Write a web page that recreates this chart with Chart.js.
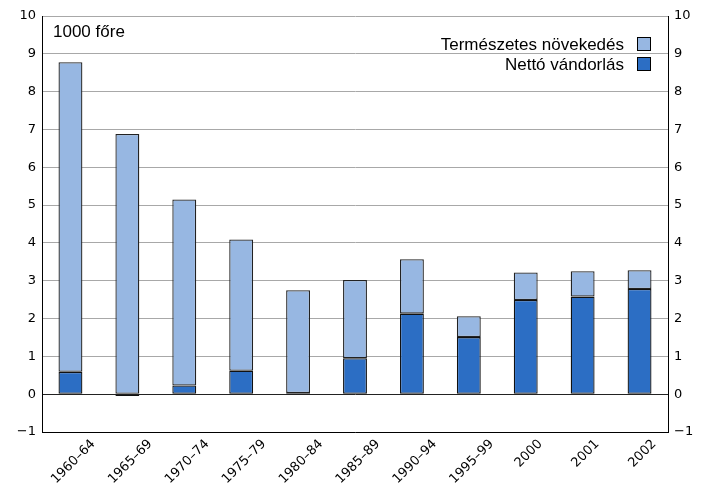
<!DOCTYPE html>
<html>
<head>
<meta charset="utf-8">
<script src="https://cdn.jsdelivr.net/npm/chart.js@4"></script>
<style>
  body { margin: 0; background: #fff; }
  #wrap { width: 701px; height: 488px; }
</style>
</head>
<body>
<div id="wrap"><canvas id="migChart" width="701" height="488"></canvas></div>
<script>
const periods = ['1960–64', '1965–69', '1970–74', '1975–79', '1980–84', '1985–89', '1990–94', '1995–99', '2000', '2001', '2002'];
const netMigration = [0.59, -0.05, 0.23, 0.62, 0.03, 0.95, 2.13, 1.51, 2.49, 2.58, 2.78];
const naturalIncrease = [8.19, 6.88, 4.92, 3.47, 2.72, 2.07, 1.44, 0.55, 0.73, 0.67, 0.50];
const yTicks = [10, 9, 8, 7, 6, 5, 4, 3, 2, 1, 0, -1];

const lightBlue = '#97b7e2';
const darkBlue = '#2c6ec4';
const tickFont = { family: '"DejaVu Sans", Verdana, sans-serif', size: 13 };

// legend + unit label drawn inside the plot area
const insideLabels = {
  id: 'insideLabels',
  afterDraw(chart) {
    const ctx = chart.ctx;
    const area = chart.chartArea;
    ctx.save();
    ctx.font = '17px "Liberation Sans", Arial, sans-serif';
    ctx.fillStyle = '#000';
    ctx.textBaseline = 'alphabetic';
    ctx.textAlign = 'left';
    ctx.fillText('1000 főre', area.left + 11, area.top + 21);

    const items = [
      { text: 'Természetes növekedés', color: lightBlue },
      { text: 'Nettó vándorlás', color: darkBlue }
    ];
    ctx.textAlign = 'right';
    items.forEach((it, i) => {
      const boxTop = Math.round(area.top + 21 + i * 20);
      const boxRight = Math.round(area.right - 17);
      ctx.fillStyle = it.color;
      ctx.fillRect(boxRight - 14, boxTop, 14, 14);
      ctx.strokeStyle = '#000';
      ctx.lineWidth = 1;
      ctx.strokeRect(boxRight - 14 + 0.5, boxTop + 0.5, 13, 13);
      ctx.fillStyle = '#000';
      ctx.fillText(it.text, boxRight - 27, boxTop + 13);
    });
    ctx.restore();
  }
};

// rotated category labels, centred under each bar
const rotatedLabels = {
  id: 'rotatedLabels',
  afterDraw(chart) {
    const ctx = chart.ctx;
    const xs = chart.scales.x;
    ctx.save();
    ctx.font = tickFont.size + 'px ' + tickFont.family;
    ctx.fillStyle = '#000';
    ctx.textAlign = 'right';
    ctx.textBaseline = 'middle';
    periods.forEach((p, i) => {
      const w = ctx.measureText(p).width;
      const x = xs.getPixelForValue(i);
      ctx.save();
      ctx.translate(x + w * 0.3536 + 3, xs.top + 10);
      ctx.rotate(-Math.PI / 4);
      ctx.fillText(p, 0, 0);
      ctx.restore();
    });
    ctx.restore();
  }
};

const ctx = document.getElementById('migChart').getContext('2d');
new Chart(ctx, {
  type: 'bar',
  data: {
    labels: periods,
    datasets: [
      {
        label: 'Nettó vándorlás',
        data: netMigration,
        backgroundColor: darkBlue,
        borderColor: '#111',
        borderWidth: 1.3,
        borderSkipped: false
      },
      {
        label: 'Természetes növekedés',
        data: naturalIncrease,
        backgroundColor: lightBlue,
        borderColor: '#222',
        borderWidth: 1.3,
        borderSkipped: false
      }
    ]
  },
  options: {
    responsive: false,
    animation: false,
    layout: { padding: { top: 16, left: 0, right: 0, bottom: 0 } },
    datasets: { bar: { barPercentage: 0.42, categoryPercentage: 1 } },
    plugins: {
      legend: { display: false },
      tooltip: { enabled: false }
    },
    scales: {
      x: {
        stacked: true,
        grid: { display: false },
        border: { display: true, color: '#000', width: 1 },
        ticks: { display: false },
        afterFit(scale) { scale.height = 56; }
      },
      y: {
        stacked: true,
        position: 'left',
        min: -1,
        max: 10,
        afterBuildTicks(scale) { scale.ticks = yTicks.map(v => ({ value: v })); },
        grid: {
          drawTicks: false,
          color: c => (c.tick.value === 0 ? '#222' : '#a8a8a8'),
          lineWidth: 1
        },
        border: { display: true, color: '#000', width: 1 },
        ticks: {
          color: '#000',
          font: tickFont,
          padding: 6,
          callback: v => (v < 0 ? '−' + Math.abs(v) : v)
        },
        afterFit(scale) { scale.width = 42; }
      },
      y2: {
        position: 'right',
        min: -1,
        max: 10,
        afterBuildTicks(scale) { scale.ticks = yTicks.map(v => ({ value: v })); },
        grid: { display: false, drawTicks: false },
        border: { display: true, color: '#000', width: 1 },
        ticks: {
          color: '#000',
          font: tickFont,
          padding: 6,
          callback: v => (v < 0 ? '−' + Math.abs(v) : v)
        },
        afterFit(scale) { scale.width = 33; }
      }
    }
  },
  plugins: [insideLabels, rotatedLabels]
});
</script>
</body>
</html>
